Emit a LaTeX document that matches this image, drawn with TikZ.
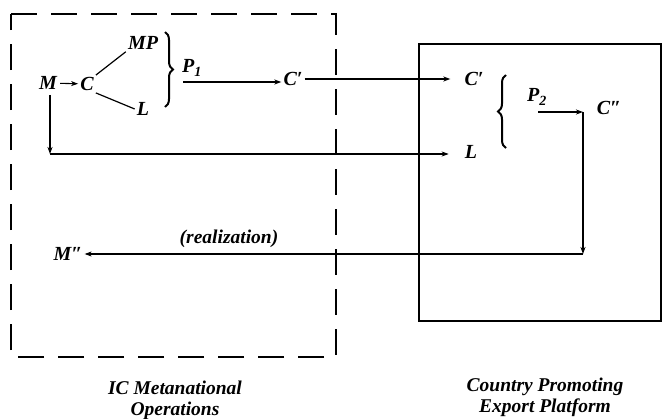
\documentclass[tikz,border=0pt]{standalone}
\usepackage{fontspec}
\setmainfont{Liberation Serif}
\usetikzlibrary{arrows.meta,decorations.pathreplacing}

\tikzset{
  lbl/.style={font=\fontsize{20}{20}\selectfont\bfseries\itshape, inner sep=2pt},
  caption/.style={font=\fontsize{19.5}{21}\selectfont\bfseries\itshape, align=center, inner sep=0pt},
  arr/.style={line width=1.1pt, -{Stealth[length=7pt,width=5pt,inset=2pt]}},
  ln/.style={line width=1.2pt},
  bigbrace/.style={line width=2pt, decorate, decoration={brace, amplitude=8pt}},
  region/.style={line width=1.8pt, dash pattern=on 26pt off 14pt},
  platform/.style={line width=1.7pt}
}

\begin{document}
\begin{tikzpicture}[x=1pt, y=-1pt]
\useasboundingbox (0,0) rectangle (664,418);

% the two regions
\draw[region] (11,14) -- (336,14) -- (336,357) -- (11,357) -- cycle;
\draw[platform] (419,44) rectangle (661,321);

% metanational side
\node[lbl] (M)  at (48,83)  {M};
\node[lbl] (C)  at (87,84)  {C};
\node[lbl] (MP) at (143,43) {MP};
\node[lbl] (L1) at (143,109) {L};
\node[lbl] (P1) at (192,68) {P\textsubscript{1}};
\node[lbl] (C1) at (293,79) {C′};
\coordinate (p1s) at (183,82);
\coordinate (corner) at (50,154);

% platform side
\node[lbl] (C2) at (474,79) {C′};
\node[lbl] (L2) at (471,152) {L};
\node[lbl] (P2) at (537,97) {P\textsubscript{2}};
\node[lbl] (C3) at (609,108) {C″};
\coordinate (p2s) at (538,112);
\coordinate (k1) at (583,112);
\coordinate (k2) at (583,254);
\node[lbl] (M2) at (68,254) {M″};
\node[font=\fontsize{19.5}{19.5}\selectfont\bfseries\itshape] (real) at (229,239) {(realization)};

% braces
\draw[bigbrace] (165,32) -- (165,107);
\draw[bigbrace] (506,148) -- (506,75);

% connectors
\draw[arr, shorten <=1pt] (M) -- (C);
\draw[ln] (C.north east) -- (MP.south west);
\draw[ln] (C.south east) -- (L1.west);
\draw[arr] (p1s) -- (p1s -| C1.west);
\draw[arr, shorten >=12pt] (C1) -- (C2);
\draw[arr, shorten <=3pt] (corner |- M.south) -- (corner);
\draw[arr, shorten >=14pt] (corner) -- (L2.west |- corner);
\draw[arr] (p2s) -- (k1);
\draw[arr] (k1) -- (k2);
\draw[arr] (k2) -- (M2);

% captions
\node[caption] (capL) at (175,400) {IC Metanational\\Operations};
\node[caption] (capR) at (545,397) {Country Promoting\\Export Platform};
\end{tikzpicture}
\end{document}
